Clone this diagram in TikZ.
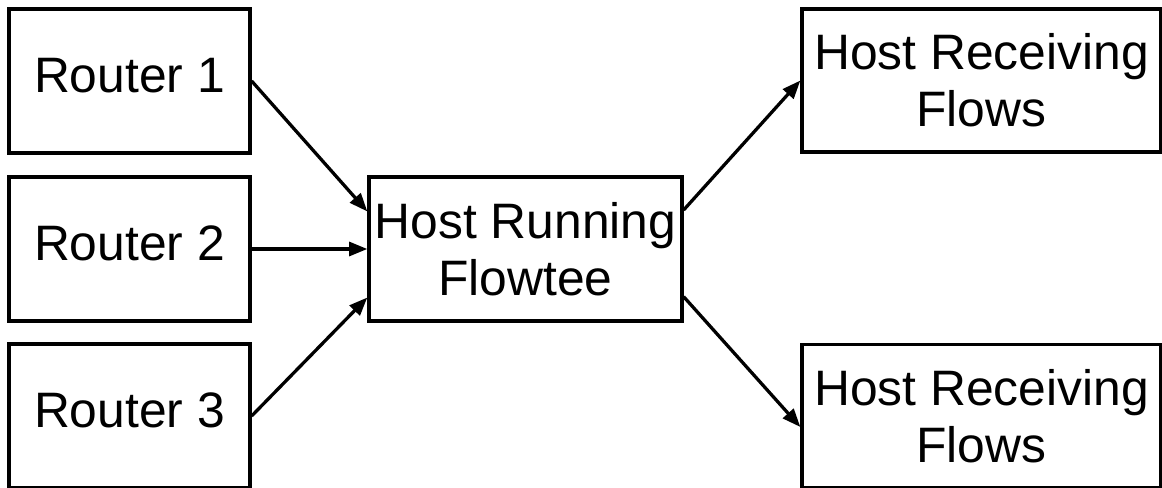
\documentclass[tikz,border=0pt]{standalone}
\usepackage{fontspec}
\setmainfont{Liberation Sans}
\usepackage{xcolor}
\usepackage{tikz}
\usetikzlibrary{arrows.meta}

\begin{document}
\begin{tikzpicture}
        % Define styles
        \tikzset{
            box/.style={rectangle, draw, line width=2.8pt, align=center, inner sep=0pt,
                font=\fontsize{42.5}{48.6}\selectfont},
            router/.style={box, minimum width=7.23cm, minimum height=4.32cm, text depth=0.36cm},
            host/.style={box, minimum width=9.39cm, minimum height=4.32cm},
            receiver/.style={box, minimum width=10.77cm, minimum height=4.29cm},
            arrow/.style={-{Triangle[length=0.55cm, width=0.42cm]}, line width=2.8pt}
        }

        \useasboundingbox (0,0) rectangle (34.86,-14.64);

        % Nodes
        \node[router] (router_node_1) at (3.885,-2.43) {Router 1};
        \node[router] (router_node_2) at (3.885,-7.47) {Router 2};
        \node[router] (router_node_3) at (3.885,-12.48) {Router 3};
        \node[host] (flowtee_node) at (15.765,-7.47) {Host Running\\Flowtee};
        \node[receiver] (receiver_node_1) at (29.445,-2.415) {Host Receiving\\Flows};
        \node[receiver] (receiver_node_2) at (29.445,-12.48) {Host Receiving\\Flows};

        % Arrows
        \draw[arrow] (router_node_1.east) -- ([yshift=1.125cm]flowtee_node.west);
        \draw[arrow] (router_node_2.east) -- (flowtee_node.west);
        \draw[arrow] (router_node_3.east) -- ([yshift=-1.455cm]flowtee_node.west);
        \draw[arrow] ([yshift=1.17cm]flowtee_node.east) -- (receiver_node_1.west);
        \draw[arrow] ([yshift=-1.43cm]flowtee_node.east) -- ([yshift=-0.33cm]receiver_node_2.west);
    \end{tikzpicture}
\end{document}
